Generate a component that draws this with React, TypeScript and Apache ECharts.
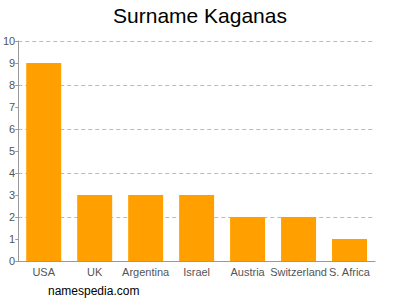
import React, { useEffect, useRef } from "react";
import * as echarts from "echarts";

const categories = ["USA", "UK", "Argentina", "Israel", "Austria", "Switzerland", "S. Africa"];
const values = [9, 3, 3, 3, 2, 2, 1];

export default function App() {
  const ref = useRef<HTMLDivElement>(null);
  useEffect(() => {
    if (!ref.current) return;
    const chart = echarts.init(ref.current, null, { renderer: "svg" });
    chart.setOption({
      animation: false,
      title: {
        text: "Surname Kaganas",
        left: "center",
        top: 0,
        textStyle: { fontFamily: "Liberation Sans, Arial, sans-serif", fontSize: 21, fontWeight: "normal", color: "#000" },
      },
      graphic: [
        {
          type: "text",
          left: 48,
          top: 285,
          style: { text: "namespedia.com", font: "12px 'Liberation Sans', Arial, sans-serif", fill: "#000" },
        },
      ],
      grid: { left: 18, right: 25, top: 41, bottom: 39 },
      xAxis: {
        type: "category",
        data: categories,
        axisLine: { lineStyle: { color: "#999" } },
        axisTick: { alignWithLabel: true, length: 4, lineStyle: { color: "#999" } },
        axisLabel: { color: "#555", fontSize: 11, fontFamily: "Liberation Sans, Arial, sans-serif", interval: 0, margin: 5 },
      },
      yAxis: [
        {
          type: "value",
          min: 0,
          max: 10,
          interval: 1,
          axisLine: { show: true, lineStyle: { color: "#999" } },
          axisTick: { show: true, length: 3, lineStyle: { color: "#999" } },
          axisLabel: { color: "#555", fontSize: 11, fontFamily: "Liberation Sans, Arial, sans-serif", margin: 3, showMaxLabel: true },
          splitLine: { show: false },
        },
        {
          type: "value",
          position: "left",
          min: 0,
          max: 10,
          interval: 2,
          axisLine: { show: false },
          axisTick: { show: false },
          axisLabel: { show: false },
          splitLine: { show: true, lineStyle: { color: "#bbb", type: [4, 3] } },
        },
      ],
      series: [
        {
          type: "bar",
          data: values,
          barWidth: 35,
          itemStyle: { color: "#FFA000" },
          z: 3,
        },
      ],
    });
    return () => chart.dispose();
  }, []);
  return <div ref={ref} style={{ position: "absolute", left: 0, top: 0, width: 400, height: 300 }} />;
}
